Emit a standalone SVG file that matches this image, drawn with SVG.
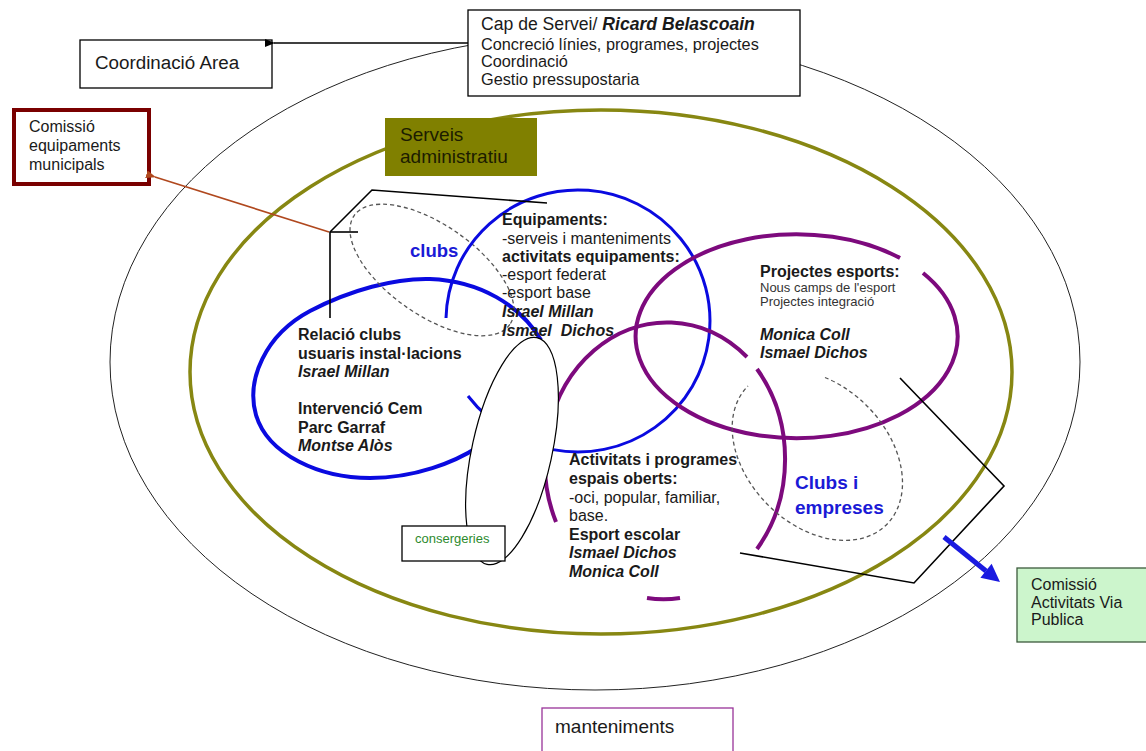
<svg xmlns="http://www.w3.org/2000/svg" width="1146" height="751" viewBox="0 0 1146 751">
<defs>
<marker id="ahBlack" markerWidth="10" markerHeight="8" refX="1" refY="4" orient="auto" markerUnits="userSpaceOnUse"><path d="M10,0 L0,4 L10,8 z" fill="#000"/></marker>
<marker id="ahBrown" markerWidth="10" markerHeight="8" refX="1" refY="4" orient="auto" markerUnits="userSpaceOnUse"><path d="M10,0 L0,4 L10,8 z" fill="#b0481e"/></marker>
</defs>
<style>
.t{font-family:"Liberation Sans",Arial,sans-serif;fill:#1a1a1a}
.b{font-weight:bold}
.bi{font-weight:bold;font-style:italic}
.f16{font-size:16px}
.f13{font-size:13px;fill:#333}
.olive-t{fill:#1c1c00}
.green-t{fill:#2d8a2d}
.box{fill:#fff;stroke:#000;stroke-width:1.3}
.blue{fill:none;stroke:#0a0ae0;stroke-width:4}
.blueThin{fill:none;stroke:#0a0ae0;stroke-width:3}
.purple{fill:none;stroke:#7d0a7d;stroke-width:4}
.dash{fill:none;stroke:#555;stroke-width:1.3;stroke-dasharray:4 3}
.line{fill:none;stroke:#000;stroke-width:1.6}
.bluelabel{font-family:"Liberation Sans",Arial,sans-serif;font-weight:bold;fill:#1a1ad6}
</style>
<rect x="0" y="0" width="1146" height="751" fill="#fff"/>

<g id="outer-area">
<ellipse cx="595" cy="362" rx="485" ry="328" fill="none" stroke="#222" stroke-width="1"/>
</g>
<g id="servei-area">
<ellipse cx="601" cy="372" rx="411" ry="262" fill="none" stroke="#878712" stroke-width="3.5"/>
</g>

<g id="cap-servei">
<rect class="box" x="468" y="10" width="332" height="86"/>
<text class="t" x="481" y="30" font-size="17.6">Cap de Servei/ <tspan class="bi">Ricard Belascoain</tspan></text>
<text class="t" x="481" y="50" font-size="16.3">Concreció línies, programes, projectes</text>
<text class="t" x="481" y="67" font-size="16.3">Coordinació</text>
<text class="t" x="481" y="85" font-size="16.3">Gestio pressupostaria</text>
</g>

<g id="coordinacio-area">
<rect class="box" x="80" y="40" width="192" height="48"/>
<text class="t" x="95" y="69" font-size="18.8">Coordinació Area</text>
</g>

<g id="comissio-equipaments">
<rect x="14" y="110" width="135" height="74" fill="#fff" stroke="#7a0000" stroke-width="4"/>
<text class="t f16" x="29" y="132">Comissió</text>
<text class="t f16" x="29" y="151">equipaments</text>
<text class="t f16" x="29" y="170">municipals</text>
</g>

<g id="serveis-administratiu">
<rect x="385" y="118" width="152" height="58" fill="#808000"/>
<text class="t olive-t" x="400" y="141" font-size="19">Serveis</text>
<text class="t olive-t" x="400" y="163" font-size="19">administratiu</text>
</g>

<g id="comissio-activitats">
<rect x="1017" y="568" width="135" height="74" fill="#ccf5cc" stroke="#3c5a3c" stroke-width="1.3"/>
<text class="t f16" x="1031" y="590">Comissió</text>
<text class="t f16" x="1031" y="608">Activitats Via</text>
<text class="t f16" x="1031" y="625">Publica</text>
</g>

<g id="manteniments">
<rect x="542" y="708" width="191" height="50" fill="#fff" stroke="#993399" stroke-width="1.3"/>
<text class="t" x="555" y="733" font-size="19">manteniments</text>
</g>

<g id="relacio-clubs">
<path class="blue" d="M 478,447 C 455,462 415,478 370,478 C 320,478 268,455 256,415 C 246,380 265,335 310,311 C 350,290 395,278 430,279 C 480,281 520,305 541,340"/>
<text class="t f16 b" x="298" y="340">Relació clubs</text>
<text class="t f16 b" x="298" y="358.5">usuaris instal·lacions</text>
<text class="t f16 bi" x="298" y="377">Israel Millan</text>
<text class="t f16 b" x="298" y="414">Intervenció Cem</text>
<text class="t f16 b" x="298" y="432.5">Parc Garraf</text>
<text class="t f16 bi" x="298" y="451">Montse Alòs</text>
</g>

<g id="clubs">
<ellipse class="dash" cx="432" cy="270" rx="95" ry="45" transform="rotate(35 432 270)"/>
<text class="bluelabel" x="410" y="257" font-size="18.5">clubs</text>
</g>

<g id="equipaments">
<path class="blueThin" d="M 446,318 A 132 131 0 1 1 553,449.6"/>
<path class="blueThin" d="M 468,396 A 132 131 0 0 0 488,417"/>
<text class="t f16 b" x="502" y="225">Equipaments:</text>
<text class="t f16" x="502" y="243.5">-serveis i manteniments</text>
<text class="t f16 b" x="502" y="262">activitats equipaments:</text>
<text class="t f16" x="502" y="280">-esport federat</text>
<text class="t f16" x="502" y="298">-esport base</text>
<text class="t f16 bi" x="502" y="316.5">Israel Millan</text>
<text class="t f16 bi" x="502" y="336" xml:space="preserve">Ismael  Dichos</text>
</g>

<g id="projectes-esports">
<path class="purple" d="M 923,273 A 161 102 0 1 1 900,258"/>
<text class="t f16 b" x="760" y="277">Projectes esports:</text>
<text class="t f13" x="760" y="292">Nous camps de l'esport</text>
<text class="t f13" x="760" y="306">Projectes integració</text>
<text class="t f16 bi" x="760" y="340">Monica Coll</text>
<text class="t f16 bi" x="760" y="358">Ismael Dichos</text>
</g>

<g id="activitats-programes">
<path class="purple" d="M 556,522 A 122 141 0 0 1 747,357"/>
<path class="purple" d="M 757,369 A 122 141 0 0 1 757,549"/>
<path class="purple" d="M 647,598 A 122 141 0 0 0 680,598" stroke-width="3"/>
<text class="t f16 b" x="569" y="465">Activitats i programes</text>
<text class="t f16 b" x="569" y="484">espais oberts:</text>
<text class="t f16" x="569" y="503">-oci, popular, familiar,</text>
<text class="t f16" x="569" y="521">base.</text>
<text class="t f16 b" x="569" y="540">Esport escolar</text>
<text class="t f16 bi" x="569" y="558">Ismael Dichos</text>
<text class="t f16 bi" x="569" y="577">Monica Coll</text>
</g>

<g id="clubs-empreses">
<path class="dash" d="M 825,377.5 A 98 70 45 1 1 748,386"/>
<text class="bluelabel" x="795" y="489" font-size="19">Clubs i</text>
<text class="bluelabel" x="795" y="514" font-size="19">empreses</text>
</g>

<g id="consergeries">
<ellipse cx="512" cy="451" rx="40" ry="116" transform="rotate(12.4 512 451)" fill="#fff" stroke="#000" stroke-width="1.2"/>
<rect class="box" x="402" y="526" width="103" height="35"/>
<text class="t green-t" x="415" y="543" font-size="13">consergeries</text>
</g>

<g id="connectors">
<line class="line" x1="468" y1="43" x2="274" y2="43" stroke-width="1.3" marker-end="url(#ahBlack)"/>
<line x1="329" y1="232" x2="155" y2="177" stroke="#b0481e" stroke-width="1.6" marker-end="url(#ahBrown)"/>
<polyline class="line" points="330,318 330,232 372,190 547,203"/>
<line class="line" x1="330" y1="232" x2="358" y2="232"/>
<polyline class="line" points="900,378 1004,486 914,583 740,553"/>
<line x1="944" y1="537" x2="986" y2="571" stroke="#1a1ae0" stroke-width="5"/>
<polygon points="1000,582 980.4,577.7 991.6,563.7" fill="#1a1ae0"/>
</g>
</svg>
